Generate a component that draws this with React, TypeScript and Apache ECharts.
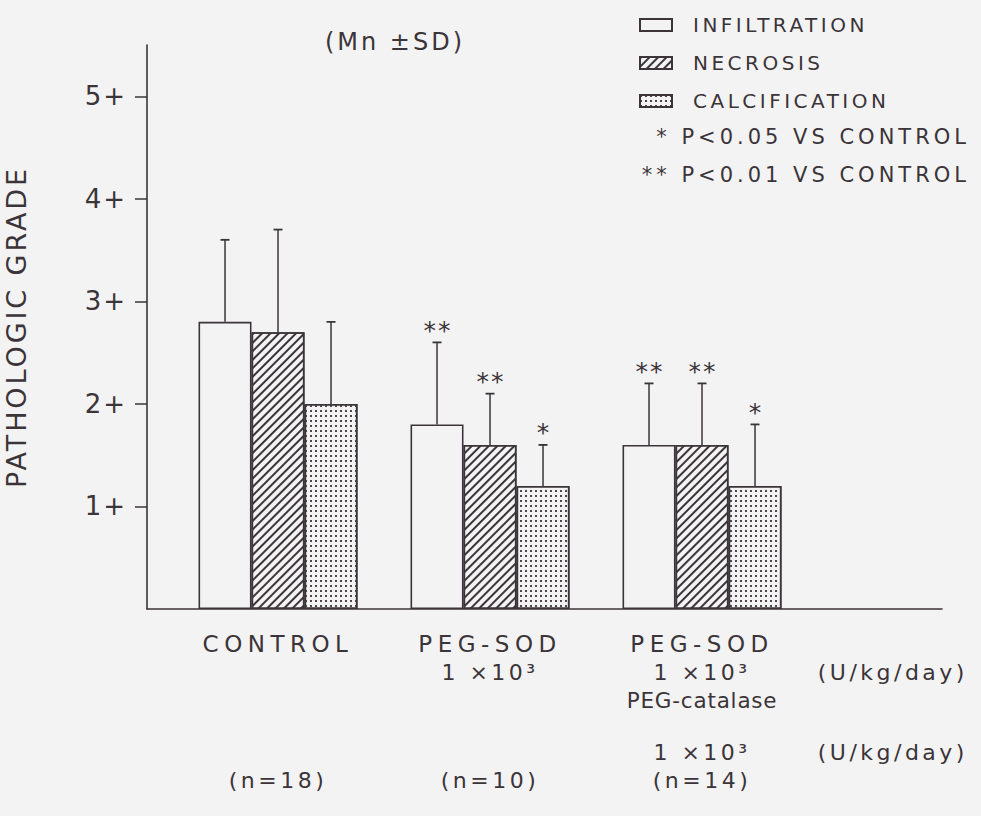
import React, { useEffect, useRef } from 'react';
import * as echarts from 'echarts';

// ---- data ----
const groupNames = ['CONTROL', 'PEG-SOD', 'PEG-SOD'];
const sodDose = ['', '1 ×10³', '1 ×10³'];
const catalaseName = ['', '', 'PEG-catalase'];
const catalaseDose = ['', '', '1 ×10³'];
const sampleSizes = [18, 10, 14];
const doseUnit = '(U/kg/day)';

const seriesNames = ['INFILTRATION', 'NECROSIS', 'CALCIFICATION'];
const infiltrationMean = [2.8, 1.8, 1.6];
const infiltrationSD = [0.8, 0.8, 0.6];
const necrosisMean = [2.7, 1.6, 1.6];
const necrosisSD = [1.0, 0.5, 0.6];
const calcificationMean = [2.0, 1.2, 1.2];
const calcificationSD = [0.8, 0.4, 0.6];
const infiltrationSig = ['', '**', '**'];
const necrosisSig = ['', '**', '**'];
const calcificationSig = ['', '*', '*'];

const yTicks = [1, 2, 3, 4, 5];
const notes = ['* P<0.05 VS CONTROL', '** P<0.01 VS CONTROL'];
const chartTitle = '(Mn ±SD)';
const yAxisName = 'PATHOLOGIC GRADE';

// ---- style constants ----
const INK = '#3b3438';
const BG = '#f4f3f4';
const FONT = 'DejaVu Sans';
const BAR_W = 53;
const CAP = 4.5;
const UNIT_POS = 2.9;

const means = [infiltrationMean, necrosisMean, calcificationMean];
const sds = [infiltrationSD, necrosisSD, calcificationSD];
const sigs = [infiltrationSig, necrosisSig, calcificationSig];

const css = `
#chartbox text[style*="26px"]{letter-spacing:2px}
#chartbox text[style*="27px"]{letter-spacing:2.9px}
#chartbox text[style*="24px"]{letter-spacing:3px}
#chartbox text[style*="20px"]{letter-spacing:3.5px}
#chartbox text[style*="21px"]{letter-spacing:4px}
#chartbox text[style*="23px"]{letter-spacing:5.5px}
#chartbox text[style*="22px"]{letter-spacing:3.5px}
#chartbox text[style*="21.5px"]{letter-spacing:0.8px}
#chartbox text[style*="25px"]{letter-spacing:2px}
`;

export default function App() {
  const ref = useRef<HTMLDivElement>(null);

  useEffect(() => {
    if (!ref.current) return;
    const chart = echarts.init(ref.current, undefined, { renderer: 'svg' });

    const groupLabel = (i: number) =>
      [
        `{u|${groupNames[i]}}`,
        `{n|${sodDose[i] || ' '}}`,
        `{c|${catalaseName[i] || ' '}}`,
        '{sp| }',
        `{n|${catalaseDose[i] || ' '}}`,
        `{n|(n=${sampleSizes[i]})}`,
      ].join('\n');
    const unitLabel = ['{n| }', `{n|${doseUnit}}`, '{n| }', '{sp| }', `{n|${doseUnit}}`, '{n| }'].join('\n');

    const errRows: number[][] = [];
    const errSig: string[] = [];
    for (let s = 0; s < 3; s++) {
      for (let g = 0; g < groupNames.length; g++) {
        errRows.push([g, means[s][g], means[s][g] + sds[s][g], s]);
        errSig.push(sigs[s][g]);
      }
    }

    const decals: any[] = [
      undefined,
      {
        symbol: 'rect',
        symbolSize: 1,
        color: INK,
        dashArrayX: [1, 0],
        dashArrayY: [1.3, 3.9],
        rotation: -Math.PI / 4,
      },
      {
        symbol: 'rect',
        symbolSize: 1,
        color: '#4f464b',
        dashArrayX: [1.4, 3.0],
        dashArrayY: [1.4, 3.0],
      },
    ];

    const barSeries = seriesNames.map((name, s) => ({
      name,
      type: 'bar',
      barWidth: BAR_W,
      barGap: '0%',
      data: groupNames.map((_, g) => [g, means[s][g]]),
      itemStyle: {
        color: BG,
        borderColor: INK,
        borderWidth: 1.6,
        decal: decals[s],
      },
      emphasis: { disabled: true },
    }));

    const option: any = {
      animation: false,
      backgroundColor: BG,
      textStyle: { fontFamily: FONT, color: INK },
      grid: { left: 147, right: 39, top: 45, bottom: 207, outerBoundsMode: 'none' },
      legend: {
        orient: 'vertical',
        left: 634,
        top: 10,
        itemWidth: 32,
        itemHeight: 12,
        itemGap: 18,
        icon: 'rect',
        selectedMode: false,
        data: seriesNames,
        textStyle: { fontSize: 20, color: INK, fontFamily: FONT, padding: [0, 0, 0, 16] },
      },
      xAxis: {
        type: 'value',
        min: -0.618,
        max: 3.132,
        splitLine: { show: false },
        axisTick: { show: false },
        axisLine: { show: true, onZero: false, lineStyle: { color: INK, width: 1.6 } },
        axisLabel: {
          customValues: [0, 1, 2, UNIT_POS],
          margin: 21,
          color: INK,
          formatter: (v: number) => {
            if (Math.abs(v - UNIT_POS) < 1e-6) return unitLabel;
            const i = Math.round(v);
            return groupLabel(i);
          },
          rich: {
            u: { fontSize: 23, lineHeight: 28, align: 'center', color: INK, fontFamily: FONT },
            n: { fontSize: 22, lineHeight: 28, align: 'center', color: INK, fontFamily: FONT },
            c: { fontSize: 21.5, lineHeight: 28, align: 'center', color: INK, fontFamily: FONT },
            sp: { fontSize: 22, lineHeight: 24, align: 'center', color: INK, fontFamily: FONT },
          },
        },
      },
      yAxis: {
        type: 'value',
        min: 0,
        max: 5.5,
        interval: 1,
        name: yAxisName,
        nameLocation: 'middle',
        nameGap: 117,
        nameTextStyle: { fontSize: 27, color: INK, fontFamily: FONT },
        splitLine: { show: false },
        axisLine: { show: true, onZero: false, lineStyle: { color: INK, width: 1.6 } },
        axisTick: { show: true, length: 12, customValues: yTicks, lineStyle: { color: INK, width: 1.5 } },
        axisLabel: {
          customValues: yTicks,
          formatter: (v: number) => `${v}+`,
          fontSize: 26,
          margin: 20,
          color: INK,
          fontFamily: FONT,
        },
      },
      graphic: [
        {
          type: 'text',
          x: 395,
          y: 42,
          style: { text: chartTitle, align: 'center', verticalAlign: 'middle', fontSize: 24, fontFamily: FONT, fill: INK },
        },
        {
          type: 'text',
          x: 970,
          y: 137,
          style: { text: notes[0], align: 'right', verticalAlign: 'middle', fontSize: 21, fontFamily: FONT, fill: INK },
        },
        {
          type: 'text',
          x: 970,
          y: 175,
          style: { text: notes[1], align: 'right', verticalAlign: 'middle', fontSize: 21, fontFamily: FONT, fill: INK },
        },
      ],
      series: [
        ...barSeries,
        {
          type: 'custom',
          z: 3,
          clip: false,
          encode: { x: 0, y: [1, 2] },
          data: errRows,
          renderItem: (params: any, api: any) => {
            const g = api.value(0);
            const mean = api.value(1);
            const top = api.value(2);
            const s = api.value(3);
            const pBase = api.coord([g, mean]);
            const pTop = api.coord([g, top]);
            const x = pBase[0] + (s - 1) * BAR_W;
            const children: any[] = [
              { type: 'line', shape: { x1: x, y1: pBase[1], x2: x, y2: pTop[1] }, style: { stroke: INK, lineWidth: 1.5 } },
              { type: 'line', shape: { x1: x - CAP, y1: pTop[1], x2: x + CAP, y2: pTop[1] }, style: { stroke: INK, lineWidth: 1.8 } },
            ];
            const sig = errSig[params.dataIndex];
            if (sig) {
              children.push({
                type: 'text',
                style: {
                  text: sig,
                  x: x + 1,
                  y: pTop[1] - 12,
                  align: 'center',
                  verticalAlign: 'middle',
                  fontSize: 25,
                  fontFamily: FONT,
                  fill: INK,
                },
              });
            }
            return { type: 'group', children };
          },
        },
      ],
    };

    chart.setOption(option);
    return () => chart.dispose();
  }, []);

  return (
    <div id="chartbox" style={{ position: 'absolute', left: 0, top: 0, width: 981, height: 816, background: BG }}>
      <style>{css}</style>
      <div ref={ref} style={{ width: 981, height: 816 }} />
    </div>
  );
}
